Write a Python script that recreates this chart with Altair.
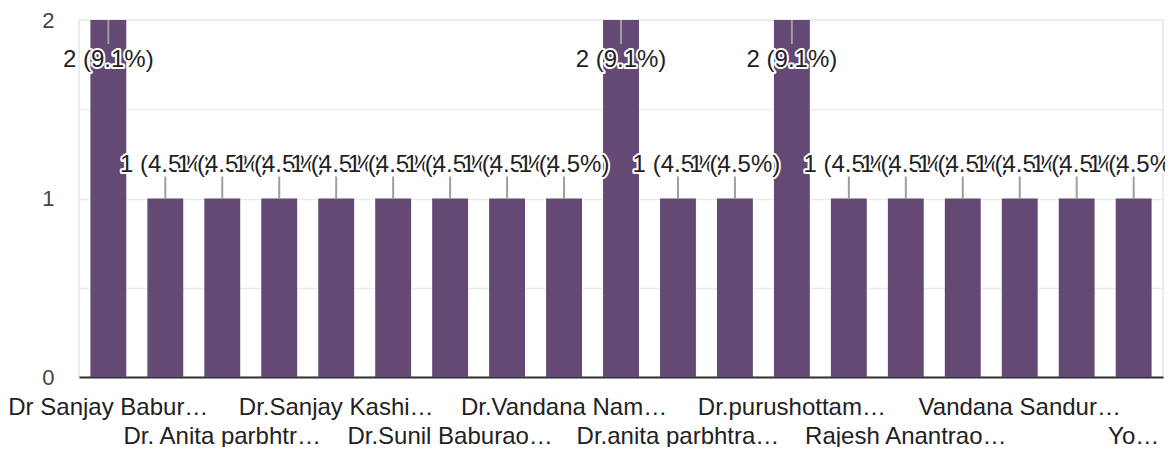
import json
import altair as alt
import pandas as pd

# ---- data ----
counts = [2, 1, 1, 1, 1, 1, 1, 1, 1, 2, 1, 1, 2, 1, 1, 1, 1, 1, 1]
axis_labels = [
    "Dr Sanjay Babur…", "", "Dr. Anita parbhtr…", "", "Dr.Sanjay Kashi…", "",
    "Dr.Sunil Baburao…", "", "Dr.Vandana Nam…", "", "Dr.anita parbhtra…", "",
    "Dr.purushottam…", "", "Rajesh Anantrao…", "", "Vandana Sandur…", "", "Yo…",
]
y_ticks = [0, 0.5, 1, 1.5, 2]

total = sum(counts)
maxc = max(counts)
df = pd.DataFrame({
    "idx": list(range(len(counts))),
    "count": counts,
    "label": [f"{c} ({c / total * 100:.1f}%)" for c in counts],
})

FONT = "Liberation Sans"
BAR = "#634973"
TXT = "#222222"

names_js = json.dumps(axis_labels, ensure_ascii=False)
x_axis = alt.Axis(
    title=None, labelAngle=0, ticks=False, grid=False,
    domainColor="#333333", domainWidth=2,
    labelFont=FONT, labelFontSize=24, labelColor=TXT,
    labelOverlap=False, labelLimit=1000, labelBaseline="top",
    labelPadding=18, labelLineHeight=29,
    labelExpr=f"(datum.value % 4 == 2) ? ['', {names_js}[datum.value]] : {names_js}[datum.value]",
)
y_axis = alt.Axis(
    title=None, values=y_ticks, ticks=False, domain=False,
    gridColor="#ebebeb", gridWidth=1.5,
    labelFont=FONT, labelFontSize=22, labelColor="#444444", labelPadding=25,
    labelExpr="datum.value % 1 == 0 ? format(datum.value, 'd') : ''",
)

X = alt.X("idx:O", scale=alt.Scale(paddingInner=0.37, paddingOuter=0.2), axis=x_axis)
Y = alt.Y("count:Q", scale=alt.Scale(domain=[0, maxc], nice=False), axis=y_axis)

base = alt.Chart(df)

bars = base.mark_bar(color=BAR).encode(x=X, y=Y)

rules_low = base.transform_filter(f"datum.count < {maxc}").mark_rule(
    color="#9e9e9e", strokeWidth=2, y2Offset=-22
).encode(x=X, y=Y, y2=alt.Y2("count"))
rules_high = base.transform_filter(f"datum.count >= {maxc}").mark_rule(
    color="#9e9e9e", strokeWidth=2, y2Offset=24
).encode(x=X, y=Y, y2=alt.Y2("count"))

layers = [bars, rules_low, rules_high]
for i, c in enumerate(counts):
    dy = 40 if c == maxc else -34
    sub = base.transform_filter(f"datum.idx == {i}")
    halo = sub.mark_text(
        font=FONT, fontSize=24, fill="white", stroke="white", strokeWidth=4,
        strokeJoin="round", baseline="middle", dy=dy,
    ).encode(x=X, y=Y, text="label:N")
    fill = sub.mark_text(
        font=FONT, fontSize=24, fill=TXT, baseline="middle", dy=dy,
    ).encode(x=X, y=Y, text="label:N")
    layers += [halo, fill]

chart = alt.layer(*layers).properties(
    width=1084, height=357,
    autosize=alt.AutoSizeParams(type="none"),
    padding={"left": 71, "top": 12, "right": 2, "bottom": 70},
).configure_view(stroke="#e6e6e6", strokeWidth=1.5)

chart.save("out.html", embed_options={"renderer": "svg", "actions": False})
